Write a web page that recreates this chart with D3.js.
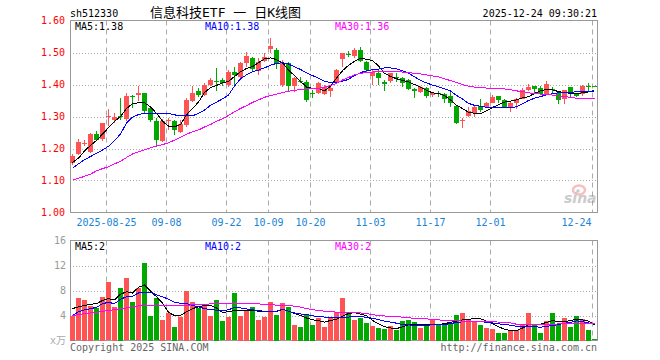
<!DOCTYPE html>
<html>
<head>
<meta charset="utf-8">
<script src="https://cdn.jsdelivr.net/npm/d3@7/dist/d3.min.js"></script>
<style>
  body { margin: 0; background: #fff; }
  text { font-family: "DejaVu Sans Mono", "Noto Sans CJK SC", monospace; font-size: 10px; }
</style>
</head>
<body>
<div id="chart"></div>
<script>
// trading days shown (2025)
const dates = ["08-15","08-18","08-19","08-20","08-21","08-22","08-25","08-26","08-27","08-28",
  "08-29","09-01","09-02","09-03","09-04","09-05","09-08","09-09","09-10","09-11",
  "09-12","09-15","09-16","09-17","09-18","09-19","09-22","09-23","09-24","09-25",
  "09-26","09-29","09-30","10-09","10-10","10-13","10-14","10-15","10-16","10-17",
  "10-20","10-21","10-22","10-23","10-24","10-27","10-28","10-29","10-30","10-31",
  "11-03","11-04","11-05","11-06","11-07","11-10","11-11","11-12","11-13","11-14",
  "11-17","11-18","11-19","11-20","11-21","11-24","11-25","11-26","11-27","11-28",
  "12-01","12-02","12-03","12-04","12-05","12-08","12-09","12-10","12-11","12-12",
  "12-15","12-16","12-17","12-18","12-19","12-22","12-23","12-24"];

const open = [1.155,1.183,1.216,1.190,1.246,1.229,1.298,1.291,1.301,1.293,
  1.365,1.367,1.372,1.326,1.287,1.225,1.288,1.287,1.253,1.273,
  1.349,1.380,1.367,1.398,1.412,1.414,1.398,1.440,1.424,1.466,
  1.482,1.442,1.475,1.510,1.508,1.398,1.466,1.393,1.412,1.409,
  1.373,1.374,1.372,1.378,1.404,1.479,1.496,1.489,1.508,1.471,
  1.428,1.435,1.409,1.409,1.425,1.419,1.414,1.385,1.378,1.388,
  1.365,1.373,1.369,1.364,1.333,1.288,1.302,1.312,1.333,1.329,
  1.343,1.364,1.352,1.331,1.343,1.356,1.383,1.395,1.390,1.372,
  1.386,1.374,1.354,1.391,1.372,1.370,1.394,1.394];
const high = [1.182,1.229,1.228,1.250,1.255,1.281,1.323,1.312,1.358,1.372,
  1.368,1.395,1.374,1.333,1.294,1.291,1.294,1.289,1.289,1.357,
  1.395,1.390,1.404,1.419,1.453,1.420,1.445,1.456,1.471,1.503,
  1.487,1.482,1.497,1.544,1.513,1.477,1.471,1.424,1.424,1.414,
  1.383,1.409,1.398,1.398,1.447,1.499,1.506,1.513,1.518,1.474,
  1.445,1.445,1.414,1.437,1.435,1.424,1.416,1.388,1.395,1.393,
  1.378,1.380,1.372,1.383,1.336,1.294,1.331,1.333,1.354,1.346,
  1.367,1.365,1.354,1.346,1.357,1.388,1.402,1.396,1.395,1.411,
  1.391,1.378,1.383,1.393,1.374,1.398,1.404,1.395];
const low = [1.150,1.180,1.207,1.186,1.223,1.222,1.270,1.280,1.290,1.285,
  1.326,1.350,1.312,1.284,1.206,1.221,1.258,1.242,1.250,1.268,
  1.346,1.362,1.364,1.395,1.381,1.395,1.393,1.398,1.419,1.456,
  1.440,1.430,1.471,1.500,1.447,1.393,1.378,1.378,1.404,1.346,
  1.357,1.370,1.367,1.362,1.401,1.454,1.485,1.482,1.471,1.440,
  1.398,1.398,1.380,1.406,1.409,1.393,1.383,1.357,1.375,1.357,
  1.362,1.362,1.341,1.331,1.276,1.263,1.300,1.297,1.315,1.326,
  1.341,1.343,1.329,1.315,1.322,1.355,1.381,1.372,1.367,1.370,
  1.372,1.339,1.339,1.362,1.360,1.364,1.381,1.392];
const close = [1.178,1.221,1.218,1.245,1.228,1.280,1.301,1.299,1.300,1.364,
  1.363,1.374,1.315,1.289,1.227,1.287,1.289,1.258,1.277,1.352,
  1.374,1.369,1.398,1.414,1.410,1.405,1.440,1.430,1.468,1.489,
  1.447,1.471,1.487,1.520,1.466,1.466,1.393,1.419,1.410,1.352,
  1.371,1.404,1.393,1.388,1.445,1.497,1.494,1.508,1.475,1.445,
  1.440,1.419,1.402,1.435,1.423,1.404,1.385,1.378,1.393,1.362,
  1.372,1.371,1.354,1.341,1.281,1.289,1.317,1.331,1.320,1.343,
  1.362,1.352,1.331,1.343,1.356,1.383,1.393,1.387,1.372,1.402,
  1.384,1.352,1.383,1.372,1.364,1.395,1.392,1.393];

// moving averages as drawn on the chart
const ma5 = [1.156,1.170,1.192,1.210,1.225,1.245,1.265,1.285,1.300,1.325,
  1.340,1.343,1.343,1.330,1.310,1.285,1.270,1.268,1.275,1.305,
  1.325,1.345,1.375,1.390,1.397,1.405,1.410,1.425,1.440,1.450,
  1.456,1.468,1.480,1.483,1.478,1.468,1.445,1.428,1.410,1.392,
  1.388,1.388,1.380,1.395,1.420,1.443,1.460,1.472,1.482,1.479,
  1.475,1.458,1.435,1.425,1.418,1.413,1.408,1.400,1.392,1.382,
  1.374,1.372,1.365,1.352,1.335,1.325,1.313,1.310,1.308,1.318,
  1.328,1.337,1.345,1.348,1.352,1.358,1.362,1.372,1.380,1.385,
  1.383,1.378,1.374,1.373,1.372,1.374,1.377,1.380];
const ma10 = [1.138,1.152,1.165,1.175,1.185,1.195,1.207,1.225,1.245,1.280,
  1.298,1.306,1.310,1.310,1.310,1.310,1.310,1.305,1.303,1.302,
  1.302,1.310,1.320,1.335,1.345,1.355,1.367,1.395,1.418,1.430,
  1.440,1.445,1.452,1.460,1.466,1.468,1.464,1.455,1.447,1.437,
  1.428,1.420,1.410,1.406,1.406,1.410,1.416,1.428,1.437,1.443,
  1.446,1.448,1.452,1.452,1.449,1.443,1.435,1.424,1.413,1.405,
  1.398,1.393,1.386,1.380,1.366,1.355,1.341,1.335,1.332,1.329,
  1.329,1.328,1.328,1.328,1.330,1.340,1.350,1.357,1.362,1.368,
  1.371,1.374,1.375,1.376,1.377,1.378,1.379,1.380];
const ma30 = [1.101,1.107,1.113,1.120,1.130,1.137,1.143,1.152,1.160,1.172,
  1.183,1.190,1.196,1.202,1.208,1.212,1.218,1.226,1.235,1.245,
  1.252,1.258,1.267,1.275,1.285,1.293,1.303,1.315,1.325,1.334,
  1.344,1.352,1.360,1.365,1.370,1.375,1.379,1.382,1.384,1.386,
  1.387,1.388,1.392,1.396,1.404,1.414,1.422,1.430,1.435,1.437,
  1.439,1.440,1.440,1.440,1.440,1.439,1.437,1.435,1.433,1.430,
  1.427,1.424,1.418,1.412,1.406,1.400,1.395,1.392,1.390,1.389,
  1.389,1.388,1.386,1.384,1.380,1.378,1.374,1.372,1.370,1.369,
  1.367,1.364,1.362,1.360,1.357,1.357,1.357,1.357];

// volume (万)
const volume = [4.0,6.77,6.56,5.6,5.17,7.04,9.33,5.44,8.48,9.97,
  6.13,8.37,12.37,4.0,6.77,3.31,4.37,2.24,3.73,8.0,
  6.13,5.23,5.76,3.89,6.56,3.09,3.73,7.57,4.0,4.8,
  5.44,3.36,3.73,6.24,4.16,5.97,5.33,2.56,2.24,4.27,
  2.56,3.57,2.24,3.63,4.64,6.77,4.37,3.36,3.57,2.88,
  2.4,1.97,1.81,2.29,1.71,3.2,3.31,2.93,1.97,2.56,
  3.31,2.56,2.88,2.67,4.16,4.48,3.31,3.2,2.56,2.08,
  1.92,1.28,1.12,1.6,1.76,2.56,4.48,2.67,1.12,3.2,
  4.48,2.56,3.63,2.24,3.95,3.47,1.76,0.16];
const vma5 = [5.1,5.4,5.6,5.8,5.9,6.4,6.7,6.5,7.4,7.8,
  7.6,8.5,8.9,7.9,7.0,6.0,4.5,4.0,4.0,4.6,
  5.1,5.4,5.6,5.6,5.2,4.5,4.6,4.8,4.8,4.8,
  4.8,4.7,4.6,4.6,4.6,5.0,4.7,4.3,4.0,3.6,
  3.3,3.2,2.95,3.2,3.4,3.9,4.3,4.5,4.2,4.0,
  3.2,2.7,2.2,2.0,1.9,2.2,2.5,2.6,2.5,2.5,
  2.55,2.55,2.7,2.9,3.1,3.3,3.4,3.5,3.5,3.1,
  2.7,2.2,1.8,1.6,1.6,2.0,2.5,2.6,2.6,2.9,
  3.2,3.0,3.0,3.2,3.4,3.3,3.1,2.5];
const vma10 = [4.0,4.6,4.9,5.1,5.3,5.9,6.1,5.9,6.6,7.0,
  7.1,7.6,7.7,7.7,7.3,7.0,6.6,6.1,5.95,5.9,
  5.6,5.4,5.1,4.95,4.85,4.8,4.9,5.3,5.2,5.05,
  4.9,4.8,4.65,4.65,4.7,5.0,4.7,4.4,4.25,4.15,
  3.95,3.85,3.75,3.7,3.63,3.7,3.75,3.85,3.8,3.73,
  3.55,3.35,3.1,2.95,2.77,2.55,2.5,2.42,2.4,2.45,
  2.5,2.53,2.56,2.7,2.9,2.98,3.03,3.04,3.0,2.93,
  2.8,2.67,2.55,2.45,2.27,2.24,2.24,2.2,2.13,2.25,
  2.4,2.55,2.75,2.9,3.15,3.0,2.8,2.7];
const vma30 = [4.0,4.15,4.3,4.4,4.5,4.65,4.8,4.95,5.07,5.2,
  5.35,5.55,5.6,5.6,5.6,5.6,5.6,5.6,5.62,5.65,
  5.7,5.76,5.8,5.85,5.87,5.87,5.87,5.87,5.87,5.87,
  5.87,5.87,5.75,5.7,5.67,5.64,5.6,5.5,5.35,5.1,
  4.95,4.8,4.68,4.6,4.55,4.53,4.5,4.45,4.4,4.3,
  4.15,4.0,3.92,3.85,3.8,3.74,3.65,3.5,3.47,3.45,
  3.4,3.3,3.22,3.18,3.14,3.11,3.09,3.07,3.05,3.03,
  3.0,2.95,2.88,2.82,2.6,2.55,2.52,2.51,2.51,2.51,
  2.55,2.66,2.7,2.73,2.77,2.73,2.7,2.67];

const tickDates = ["08-25","09-08","09-22","10-09","10-20","11-03","11-17","12-01","12-24"];
const tickLabels = ["2025-08-25","09-08","09-22","10-09","10-20","11-03","11-17","12-01","12-24"];
const priceTicks = [1.00,1.10,1.20,1.30,1.40,1.50,1.60];
const volTicks = [4,8,12,16];

/** CONSTANTS */
const width = 660, height = 360,
  left = 70, right = 598,
  pTop = 20.5, pBottom = 212.5,
  vTop = 240.5, vBottom = 340.5;
const upColor = "#ff5454", downColor = "#00a800", gridColor = "#aaa", frameColor = "#999";

/** SCALES */
const x = d3.scaleBand().domain(dates).range([left, right]);
const yPrice = d3.scaleLinear().domain([1.0, 1.6]).range([pBottom, pTop]);
const yVol = d3.scaleLinear().domain([0, 16]).range([vBottom, vTop]);

const candles = dates.map((d, i) => ({
  date: d, open: open[i], high: high[i], low: low[i], close: close[i], vol: volume[i],
  up: close[i] >= open[i]
}));

/** MAIN CODE */
const svg = d3.select("#chart").append("svg")
  .attr("width", width).attr("height", height)
  .style("display", "block");

// horizontal dotted grid
svg.append("g").selectAll("line")
  .data(priceTicks.filter(v => v > 1.0 && v < 1.6))
  .join("line")
  .attr("x1", left).attr("x2", right)
  .attr("y1", d => Math.round(yPrice(d)) + 0.5).attr("y2", d => Math.round(yPrice(d)) + 0.5)
  .attr("stroke", gridColor).attr("stroke-dasharray", "1,2");

svg.append("g").selectAll("line")
  .data(volTicks.filter(v => v < 16))
  .join("line")
  .attr("x1", left).attr("x2", right)
  .attr("y1", d => Math.round(yVol(d)) + 0.5).attr("y2", d => Math.round(yVol(d)) + 0.5)
  .attr("stroke", gridColor).attr("stroke-dasharray", "1,2");

// vertical dashed grid at date ticks
[[pTop, pBottom], [vTop, vBottom]].forEach(([a, b]) => {
  svg.append("g").selectAll("line")
    .data(tickDates)
    .join("line")
    .attr("x1", d => x(d) + 0.5).attr("x2", d => x(d) + 0.5)
    .attr("y1", a).attr("y2", b)
    .attr("stroke", gridColor).attr("stroke-dasharray", "5,4");
});

// frames
svg.append("rect").attr("x", left + 0.5).attr("y", pTop).attr("width", right - left - 1).attr("height", pBottom - pTop)
  .attr("fill", "none").attr("stroke", frameColor);
svg.append("rect").attr("x", left + 0.5).attr("y", vTop).attr("width", right - left - 1).attr("height", vBottom - vTop)
  .attr("fill", "none").attr("stroke", frameColor);

// candles
const cg = svg.append("g").attr("shape-rendering", "crispEdges");
cg.selectAll("line")
  .data(candles)
  .join("line")
  .attr("x1", d => x(d.date) + 2.5).attr("x2", d => x(d.date) + 2.5)
  .attr("y1", d => yPrice(d.high)).attr("y2", d => yPrice(d.low))
  .attr("stroke", d => d.up ? upColor : downColor);
cg.selectAll("rect")
  .data(candles)
  .join("rect")
  .attr("x", d => x(d.date))
  .attr("width", x.bandwidth() - 1)
  .attr("y", d => Math.round(yPrice(Math.max(d.open, d.close))))
  .attr("height", d => Math.max(1, Math.round(Math.abs(yPrice(d.open) - yPrice(d.close)))))
  .attr("fill", d => d.up ? upColor : downColor);

// volume bars
svg.append("g").attr("shape-rendering", "crispEdges")
  .selectAll("rect")
  .data(candles)
  .join("rect")
  .attr("x", d => x(d.date))
  .attr("width", x.bandwidth() - 1)
  .attr("y", d => Math.round(yVol(d.vol)))
  .attr("height", d => Math.round(yVol(0) - yVol(d.vol)))
  .attr("fill", d => d.up ? upColor : downColor);

// MA lines (aliased, like the original bitmap chart)
const cx = i => x(dates[i]) + 2.5;
const priceLine = d3.line().x((d, i) => cx(i)).y(d => yPrice(d));
const volLine = d3.line().x((d, i) => cx(i)).y(d => yVol(d));
[[ma5, "#000"], [ma10, "#0000ff"], [ma30, "#ff00ff"]].forEach(([s, c]) => {
  svg.append("path").attr("d", priceLine(s)).attr("fill", "none").attr("stroke", c)
    .attr("stroke-width", 1).attr("shape-rendering", "crispEdges");
});
[[vma5, "#000"], [vma10, "#0000ff"], [vma30, "#ff00ff"]].forEach(([s, c]) => {
  svg.append("path").attr("d", volLine(s)).attr("fill", "none").attr("stroke", c)
    .attr("stroke-width", 1).attr("shape-rendering", "crispEdges");
});

// axes
const yAxis = d3.axisLeft(yPrice).tickValues(priceTicks).tickFormat(d3.format(".2f")).tickSize(0).tickPadding(5);
svg.append("g").attr("transform", `translate(${left},0)`).call(yAxis)
  .call(g => g.select(".domain").remove())
  .selectAll("text").attr("fill", "#f00").style("font-size", "10px").style("font-family", "DejaVu Sans Mono");

const vAxis = d3.axisLeft(yVol).tickValues(volTicks).tickFormat(d3.format("d")).tickSize(0).tickPadding(4);
svg.append("g").attr("transform", `translate(${left},0)`).call(vAxis)
  .call(g => g.select(".domain").remove())
  .selectAll("text").attr("fill", "#999").style("font-size", "10px").style("font-family", "DejaVu Sans Mono");

const xAxis = d3.axisBottom(x).tickValues(tickDates).tickFormat((d, i) => tickLabels[i]).tickSize(0).tickPadding(6);
const xg = svg.append("g").attr("transform", `translate(-2.5,${pBottom})`).call(xAxis)
  .call(g => g.select(".domain").remove());
xg.selectAll("text").attr("fill", "#1a84d6").style("font-size", "10px").style("font-family", "DejaVu Sans Mono");
xg.selectAll(".tick").filter(d => d === "12-24").select("text")
  .attr("text-anchor", "end").attr("x", -1);

// header texts
svg.append("text").attr("x", 70).attr("y", 17).text("sh512330");
svg.append("text").attr("x", 150).attr("y", 17).style("font-size", "13px").text("信息科技ETF 一 日K线图");
svg.append("text").attr("x", 597).attr("y", 17).attr("text-anchor", "end").text("2025-12-24 09:30:21");

// legends
const f2 = d3.format(".2f");
const legendX = [75, 205, 335];
[["MA5:", ma5, "#000"], ["MA10:", ma10, "#0000ff"], ["MA30:", ma30, "#ff00ff"]].forEach(([n, s, c], k) => {
  svg.append("text").attr("x", legendX[k]).attr("y", 29.5).attr("fill", c).text(n + f2(s[s.length - 1]));
});
[["MA5:", vma5, "#000"], ["MA10:", vma10, "#0000ff"], ["MA30:", vma30, "#ff00ff"]].forEach(([n, s, c], k) => {
  svg.append("text").attr("x", legendX[k]).attr("y", 250).attr("fill", c).text(n + Math.floor(s[s.length - 1]));
});

// unit + footer
svg.append("text").attr("x", 66).attr("y", 344).attr("text-anchor", "end").attr("fill", "#aaa").text("x万");
svg.append("text").attr("x", 70).attr("y", 351).attr("fill", "#666").text("Copyright 2025 SINA.COM");
svg.append("text").attr("x", 597).attr("y", 351).attr("text-anchor", "end").attr("fill", "#666").text("http://finance.sina.com.cn");

// sina watermark
const wm = svg.append("g").attr("opacity", 0.5);
wm.append("ellipse").attr("cx", 579).attr("cy", 190).attr("rx", 6).attr("ry", 4.5)
  .attr("fill", "none").attr("stroke", "#f08080").attr("stroke-width", 2.5);
wm.append("circle").attr("cx", 578).attr("cy", 191).attr("r", 1.8).attr("fill", "#999");
wm.append("text").attr("x", 564).attr("y", 203)
  .style("font-family", "DejaVu Sans").style("font-size", "14px").style("font-weight", "bold").style("font-style", "italic")
  .attr("fill", "#999").text("sina");
</script>
</body>
</html>
